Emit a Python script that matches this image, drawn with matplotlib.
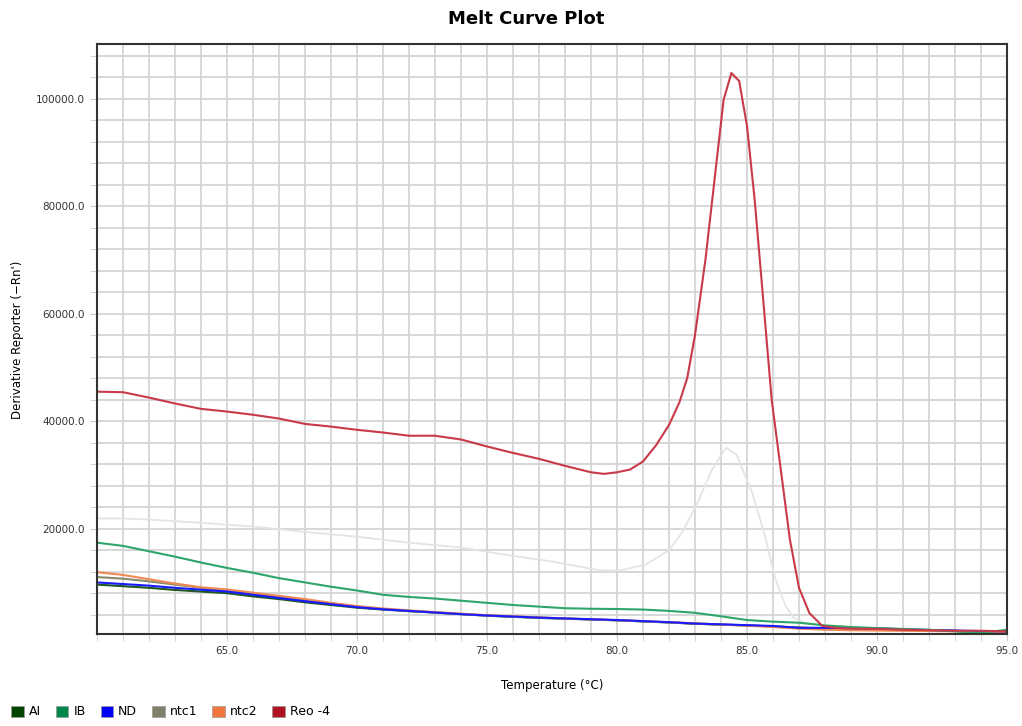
import matplotlib
matplotlib.use("Agg")
import matplotlib.pyplot as plt
from matplotlib.patches import Patch
from matplotlib.ticker import MultipleLocator

# temperatures for the flat (low) curves
temps = [60, 61, 62, 63, 64, 65, 66, 67, 68, 69, 70, 71, 72, 73, 74, 75, 76, 77,
         78, 79, 80, 81, 82, 83, 84, 85, 86, 87, 88, 89, 90, 91, 92, 93, 94, 95]

ai = [9600, 9300, 9000, 8600, 8300, 8000, 7400, 6900, 6300, 5800, 5300, 4950,
      4650, 4400, 4100, 3800, 3600, 3400, 3250, 3100, 2950, 2750, 2550, 2300,
      2150, 2000, 1800, 1600, 1450, 1450, 1400, 1250, 1100, 1000, 700, 800]
ib = [17400, 16800, 15800, 14800, 13700, 12700, 11800, 10800, 10000, 9200, 8500,
      7700, 7300, 7000, 6600, 6200, 5800, 5500, 5200, 5100, 5050, 4950, 4700,
      4350, 3700, 3000, 2700, 2500, 2000, 1700, 1500, 1350, 1200, 900, 600, 1200]
nd = [10000, 9700, 9400, 9000, 8650, 8300, 7700, 7100, 6500, 5950, 5400, 5000,
      4700, 4400, 4100, 3850, 3650, 3450, 3300, 3150, 3000, 2800, 2600, 2350,
      2200, 2050, 1900, 1550, 1550, 1500, 1450, 1300, 1150, 1050, 950, 900]
ntc1 = [11000, 10700, 10200, 9600, 9000, 8500, 7900, 7300, 6700, 6100, 5500, 5050,
        4700, 4400, 4100, 3850, 3650, 3450, 3300, 3100, 2950, 2750, 2550, 2350,
        2150, 2000, 1800, 1550, 1300, 1250, 1150, 1100, 1000, 950, 700, 750]
ntc2 = [11900, 11400, 10600, 9800, 9100, 8700, 8100, 7500, 6900, 6200, 5600, 5150,
        4800, 4500, 4200, 3900, 3700, 3500, 3300, 3150, 3000, 2800, 2600, 2400,
        2150, 1950, 1700, 1400, 1200, 1100, 1050, 1000, 950, 900, 850, 750]

# Reo -4 (peak curve)
reo_t = [60, 61, 62, 63, 64, 65, 66, 67, 68, 69, 70, 71, 72, 73, 74, 75, 76, 77, 78,
         79, 79.5, 80, 80.5, 81, 81.5, 82, 82.4, 82.7, 83.0, 83.4, 83.8, 84.1, 84.4,
         84.7, 85.0, 85.3, 85.6, 85.95, 86.3, 86.65, 87.0, 87.4, 87.9, 88.5, 89, 90,
         91, 92, 93, 94, 95]
reo = [45500, 45400, 44400, 43300, 42300, 41800, 41200, 40500, 39500, 39000, 38400,
       37900, 37300, 37300, 36600, 35300, 34100, 33000, 31700, 30500, 30200, 30500,
       31000, 32500, 35500, 39300, 43500, 48000, 56000, 70000, 87000, 99800, 104800,
       103300, 95000, 81000, 64000, 44000, 31000, 18000, 9000, 4300, 1900, 1500,
       1400, 1350, 1200, 1100, 1000, 1000, 900]

# faint unlabelled well
faint_t = [60, 61, 62, 64, 66, 68, 70, 72, 74, 75.5, 77.5, 79.35, 80.1, 81.1, 82.0,
           82.5, 83.1, 83.65, 84.2, 84.6, 85.2, 85.7, 86.1, 86.5, 86.8, 87.2, 88, 89, 90]
faint = [21900, 21900, 21700, 21100, 20400, 19400, 18500, 17400, 16500, 15300, 13900,
         12240, 12200, 13300, 16000, 19260, 24840, 30980, 35070, 33770, 26700, 18500,
         10500, 5500, 3400, 2500, 2000, 1700, 1500]

names = ["AI", "IB", "ND", "ntc1", "ntc2", "Reo -4"]
legend_colors = ["#004400", "#00884a", "#0000ff", "#808068", "#f07840", "#b01020"]
line_colors = ["#1e5a1e", "#2ea56a", "#1a1aff", "#8a8a70", "#f08a55", "#c83a48"]

fig = plt.figure(figsize=(10.22, 7.26), dpi=100)
ax = fig.add_axes([0.0949, 0.1267, 0.8904, 0.8127])

ax.plot(faint_t, faint, color="#e4e4e4", lw=1.3)
for t, v, c in [(temps, ai, line_colors[0]), (temps, ntc1, line_colors[3]),
                (temps, ntc2, line_colors[4]), (temps, nd, line_colors[2]),
                (temps, ib, line_colors[1]), (reo_t, reo, line_colors[5])]:
    ax.plot(t, v, color=c, lw=1.5)

ax.set_xlim(60, 95)
ax.set_ylim(400, 110200)
ax.xaxis.set_minor_locator(MultipleLocator(1))
ax.yaxis.set_minor_locator(MultipleLocator(4000))
ax.set_xticks([65, 70, 75, 80, 85, 90, 95])
ax.set_xticklabels(["65.0", "70.0", "75.0", "80.0", "85.0", "90.0", "95.0"])
ax.set_yticks([20000, 40000, 60000, 80000, 100000])
ax.set_yticklabels(["20000.0", "40000.0", "60000.0", "80000.0", "100000.0"])
ax.grid(which="both", color="#d4d4d4", lw=1.3)
ax.set_axisbelow(True)
ax.tick_params(which="both", direction="out", length=5, color="#cccccc",
               labelsize=7.5, labelcolor="#333333")
for s in ax.spines.values():
    s.set_color("#333333")
    s.set_linewidth(1.5)

ax.set_xlabel("Temperature (°C)", fontsize=8.5, labelpad=17)
fig.text(0.017, 0.532, "Derivative Reporter (\u2212Rn')", rotation=90,
         ha="center", va="center", fontsize=8.5)
fig.text(0.515, 0.974, "Melt Curve Plot", ha="center", va="center",
         fontsize=13, fontweight="bold")

handles = [Patch(facecolor=c, edgecolor="#999999", lw=0.5) for c in legend_colors]
fig.legend(handles, names, loc="lower left", bbox_to_anchor=(0.0, -0.005), ncol=6,
           frameon=False, fontsize=9, handlelength=1.0, handleheight=1.0,
           handletextpad=0.4, columnspacing=1.2)

fig.savefig("out.png", dpi=100)
